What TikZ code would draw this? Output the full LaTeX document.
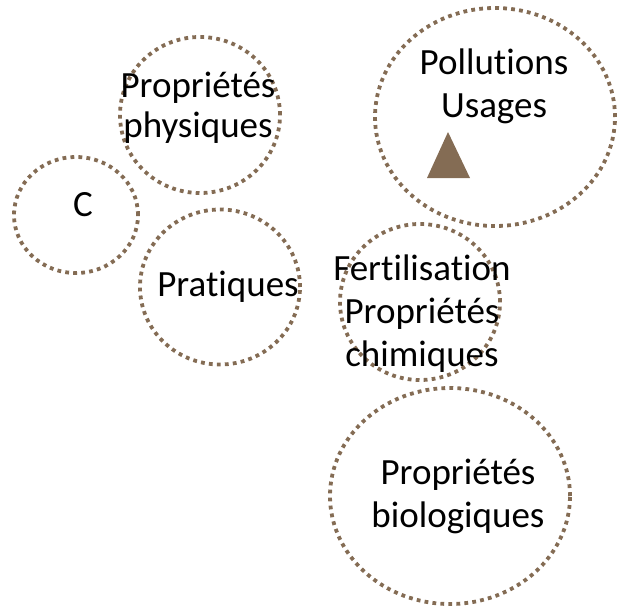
\documentclass[tikz,border=0pt]{standalone}
\usepackage{fontspec}
\setmainfont{Carlito}[Ligatures=NoCommon]
\usepackage{tikz}
\usetikzlibrary{shapes}
\definecolor{terre}{RGB}{132,108,84}
\tikzstyle{ring}=[ellipse,draw=terre,line width=3.8pt,dash pattern=on 3.8pt off 4.2pt,inner sep=0pt]
\tikzstyle{label}=[align=center,inner sep=0pt,font=\fontsize{37}{43}\selectfont]
\begin{document}
\begin{tikzpicture}[x=1pt,y=-1pt]
\useasboundingbox (0,0) rectangle (618,611);
\node[ring, minimum width=160pt, minimum height=156pt] (phys) at (200,115) {};
\node[ring, minimum width=124pt, minimum height=116pt] (c) at (76,215) {};
\node[ring, minimum width=160pt, minimum height=155pt] (prat) at (220,287) {};
\node[ring, minimum width=240pt, minimum height=218pt] (poll) at (495,117) {};
\node[ring, minimum width=160pt, minimum height=156pt] (fert) at (420,302) {};
\node[ring, minimum width=240pt, minimum height=216pt] (bio) at (450,496) {};
\node[label, font=\fontsize{37}{40}\selectfont] (tphys) at (198,108) {Propriétés\\physiques};
\node[label] (tc) at (83,205) {C};
\node[label] (tprat) at (228,287) {Pratiques};
\node[label] (tpoll) at (494,86) {Pollutions\\Usages};
\node[label] (tfert) at (422,314) {Fertilisation\\Propriétés\\chimiques};
\node[label] (tbio) at (458,496) {Propriétés\\biologiques};
\fill[terre] (448,132) -- (470,178) -- (427,178) -- cycle;
\end{tikzpicture}
\end{document}
